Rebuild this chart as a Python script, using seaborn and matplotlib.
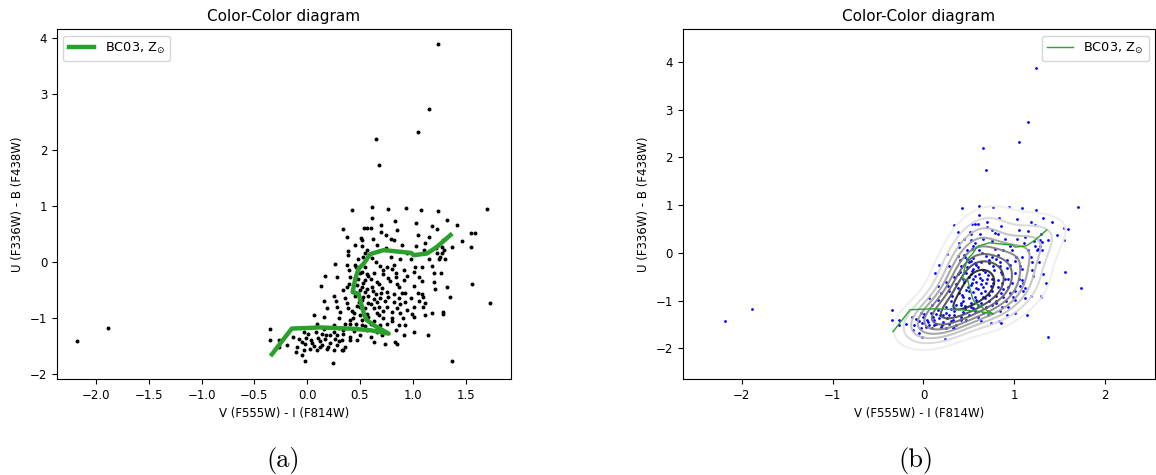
import matplotlib
matplotlib.use("Agg")
import matplotlib.pyplot as plt
import seaborn as sns
import pandas as pd

vi = [
    -2.18, -1.89, 1.24, 1.15, 1.05, 0.655, 0.684, 1.70, 1.73, 1.37, 1.56, 1.55, 1.55, 1.59, 1.47, 1.42,
    1.32, 1.24, 1.08, 0.94, 0.77, 0.61, 0.42, 0.61, 0.83, 1.03, 1.18, 0.34, 0.54, 0.57, 0.85, 0.70,
    0.75, 0.38, 0.51, 0.62, 0.79, 0.82, 0.52, 1.23, 1.29, 1.12, 1.22, 1.28, 1.37, 1.26, 1.31, 1.23,
    1.03, 1.11, 0.95, 0.39, 0.57, 0.53, 0.61, 0.79, 0.88, 0.39, 0.26, 0.38, 0.46, 0.69, 0.76, 0.80,
    0.92, 1.02, 1.09, 1.18, 1.01, 1.27, 0.52, 0.57, 0.63, 0.72, 0.84, 0.84, 0.77, 0.17, 0.28, 0.41,
    0.48, 0.55, 0.66, 0.92, 1.06, 1.09, 1.20, 1.32, 1.21, 0.13, 0.40, 0.52, 0.61, 0.71, 0.87, 1.01,
    0.34, 0.44, 0.55, 0.65, 0.76, 0.82, 0.93, 1.09, 0.25, 0.53, 0.69, 0.77, 0.87, 0.98, 1.10, 1.35,
    0.16, 0.27, 0.38, 0.49, 0.58, 0.66, 0.82, 0.93, 1.06, 1.12, 0.19, 0.28, 0.39, 0.50, 0.63, 0.76,
    0.85, 1.01, 1.10, 0.31, 0.44, 0.57, 0.66, 0.80, 0.88, 0.99, 1.18, 1.29, 1.29, 0.06, 0.16, 0.30,
    0.41, 0.52, 0.72, 0.80, 0.91, 1.01, 0.09, 0.25, 0.41, 0.46, 0.52, 0.69, 0.76, 0.87, 0.93, 0.16,
    0.34, 0.44, 0.57, 0.66, 0.84, 1.01, -0.35, -0.13, -0.03, 0.01, 0.14, 0.22, 0.28, 0.34, 0.41, 0.50,
    0.60, 0.71, 0.92, 1.14, -0.08, -0.05, 0.04, 0.12, 0.17, 0.26, 0.33, 0.41, 0.47, 0.63, -0.35, -0.27,
    -0.19, -0.10, -0.02, 0.06, 0.14, 0.20, 0.28, 0.36, 0.85, 0.83, 0.74, -0.27, -0.11, -0.03, 0.03, 0.09,
    0.19, 0.25, 0.33, -0.05, -0.02, 0.24, 0.34,
    0.45, 0.48, 0.50, 0.55, 0.58, 0.60, 0.53, 0.47, 0.50, 0.57, 0.62, 0.45, 0.52, 0.58, 0.63, 0.47,
    0.55, 0.60, 0.68, 0.42, 0.50, 0.58, 0.63, 0.46, 0.55, 0.60, 0.68, 0.72, 0.74, 0.70, 0.68, 0.72,
    0.65, 0.55, 0.48, 0.40, 0.38, 0.36, 0.43, 0.36, 0.30, 0.25, 0.18, 0.10, 0.05, 0.12, 0.22, 0.30,
    0.08, -0.01, 0.85, 0.90, 0.95, 0.80, 0.88, 0.78, 0.82, 0.95, 1.05, 1.12, 0.98, 0.90, 0.75, 0.66,
    0.52, 0.45, 1.15, 1.20, 1.25, 1.28, 1.30, 1.15, 1.05, 0.60, 0.70,
]
ub = [
    -1.42, -1.18, 3.88, 2.73, 2.32, 2.20, 1.73, 0.95, -0.73, -1.76, -0.39, 0.26, 0.52, 0.51, 0.38, 0.65,
    0.74, 0.90, 0.93, 0.97, 0.95, 0.98, 0.93, 0.79, 0.73, 0.70, 0.64, 0.59, 0.60, 0.60, 0.57, 0.54,
    0.48, 0.44, 0.43, 0.40, 0.41, 0.39, 0.39, 0.58, 0.39, 0.33, 0.24, 0.26, 0.27, 0.09, 0.06, 0.15,
    0.29, 0.21, 0.15, 0.20, 0.21, 0.09, 0.07, 0.09, 0.06, 0.12, -0.03, -0.06, -0.09, -0.07, -0.09, -0.12,
    -0.14, -0.09, -0.09, -0.08, -0.18, -0.20, -0.18, -0.21, -0.20, -0.22, -0.20, -0.27, -0.28, -0.26, -0.27, -0.27,
    -0.30, -0.33, -0.36, -0.32, -0.27, -0.34, -0.36, -0.45, -0.48, -0.43, -0.40, -0.45, -0.45, -0.46, -0.45, -0.43,
    -0.51, -0.54, -0.54, -0.57, -0.54, -0.57, -0.55, -0.57, -0.61, -0.63, -0.64, -0.63, -0.64, -0.64, -0.63, -0.63,
    -0.70, -0.70, -0.74, -0.71, -0.74, -0.71, -0.71, -0.71, -0.70, -0.74, -0.83, -0.80, -0.83, -0.80, -0.83, -0.80,
    -0.83, -0.80, -0.80, -0.90, -0.92, -0.93, -0.92, -0.90, -0.92, -0.93, -0.91, -0.90, -0.93, -0.95, -0.98, -1.01,
    -1.04, -1.04, -1.01, -1.01, -1.01, -0.99, -1.10, -1.13, -1.10, -1.11, -1.13, -1.13, -1.10, -1.13, -1.13, -1.19,
    -1.22, -1.23, -1.22, -1.25, -1.22, -1.25, -1.20, -1.34, -1.25, -1.28, -1.28, -1.31, -1.31, -1.29, -1.34, -1.31,
    -1.34, -1.30, -1.31, -1.31, -1.38, -1.43, -1.40, -1.41, -1.37, -1.37, -1.40, -1.40, -1.40, -1.43, -1.40, -1.40,
    -1.49, -1.52, -1.46, -1.51, -1.49, -1.52, -1.49, -1.52, -1.46, -1.43, -1.46, -1.52, -1.61, -1.58, -1.55, -1.58,
    -1.55, -1.57, -1.57, -1.67, -1.77, -1.80, -1.58,
    -0.05, -0.12, -0.20, -0.10, -0.25, -0.30, -0.38, -0.42, -0.50, -0.48, -0.52, -0.60, -0.68, -0.60, -0.66, -0.78,
    -0.82, -0.76, -0.80, -0.88, -0.95, -0.98, -1.05, -1.18, -1.15, -1.10, -0.95, -0.88, -0.70, -0.55, -0.40, -0.15,
    0.00, 0.15, 0.05, -0.15, -0.45, -0.65, -1.00, -1.10, -1.18, -1.25, -1.30, -1.35, -1.45, -1.52, -1.45, -1.42,
    -1.25, -1.35, -0.40, -0.55, -0.85, -1.05, -0.75, -0.35, -0.05, -0.25, -0.55, -0.95, 0.05, 0.30, 0.25, 0.30,
    0.28, 0.30, 0.05, -0.20, 0.05, 0.15, 0.22, 0.45, 0.48, 0.60, 0.65,
]

# BC03 solar-metallicity track
track_vi = [-0.335, -0.146, 0.123, 0.408, 0.598, 0.772, 0.630, 0.566, 0.541, 0.519, 0.487, 0.430,
            0.456, 0.487, 0.535, 0.598, 0.725, 0.883, 0.984, 1.010, 1.136, 1.230, 1.358]
track_ub = [-1.65, -1.19, -1.17, -1.19, -1.22, -1.28, -1.13, -1.04, -0.95, -0.80, -0.57, -0.54,
            -0.30, -0.12, -0.03, 0.14, 0.21, 0.18, 0.16, 0.12, 0.15, 0.27, 0.48]

xlabel = "V (F555W) - I (F814W)"
ylabel = "U (F336W) - B (F438W)"
title = "Color-Color diagram"
track_label = r"BC03, Z$_{\odot}$"

df = pd.DataFrame({"vi": vi, "ub": ub})
track = pd.DataFrame({"vi": track_vi, "ub": track_ub})

fs = 8.5
fig = plt.figure(figsize=(11.56, 4.75), dpi=100)
ax1 = fig.add_axes([0.0493, 0.2021, 0.3927, 0.7362])
ax2 = fig.add_axes([0.5906, 0.2021, 0.4086, 0.7362])

# (a) plain scatter with thick track
sns.scatterplot(data=df, x="vi", y="ub", color="black", s=8, linewidth=0, ax=ax1)
sns.lineplot(data=track, x="vi", y="ub", sort=False, estimator=None, color="#2ca02c",
             linewidth=3.2, label=track_label, ax=ax1)
ax1.set_xlim(-2.37, 1.93)
ax1.set_ylim(-2.09, 4.15)
ax1.legend(loc="upper left", fontsize=9.3)

# (b) scatter with density contours
sns.kdeplot(data=df, x="vi", y="ub", cmap="Greys", levels=10, bw_adjust=1.15,
            linewidths=1.5, alpha=0.9, ax=ax2)
sns.scatterplot(data=df, x="vi", y="ub", color="blue", s=4, linewidth=0, ax=ax2)
sns.lineplot(data=track, x="vi", y="ub", sort=False, estimator=None, color="#2ca02c",
             linewidth=1, label=track_label, ax=ax2)
ax2.set_xlim(-2.65, 2.55)
ax2.set_ylim(-2.64, 4.68)
ax2.legend(loc="upper right", fontsize=9.3)

for ax in (ax1, ax2):
    ax.set_title(title, fontsize=11)
    ax.set_xlabel(xlabel, fontsize=fs)
    ax.set_ylabel(ylabel, fontsize=fs)
    ax.tick_params(labelsize=fs)

fig.text(0.245, 0.03, "(a)", fontfamily="cmr10", fontsize=19, ha="center", va="center")
fig.text(0.792, 0.03, "(b)", fontfamily="cmr10", fontsize=19, ha="center", va="center")

fig.savefig("out.png", dpi=100)
